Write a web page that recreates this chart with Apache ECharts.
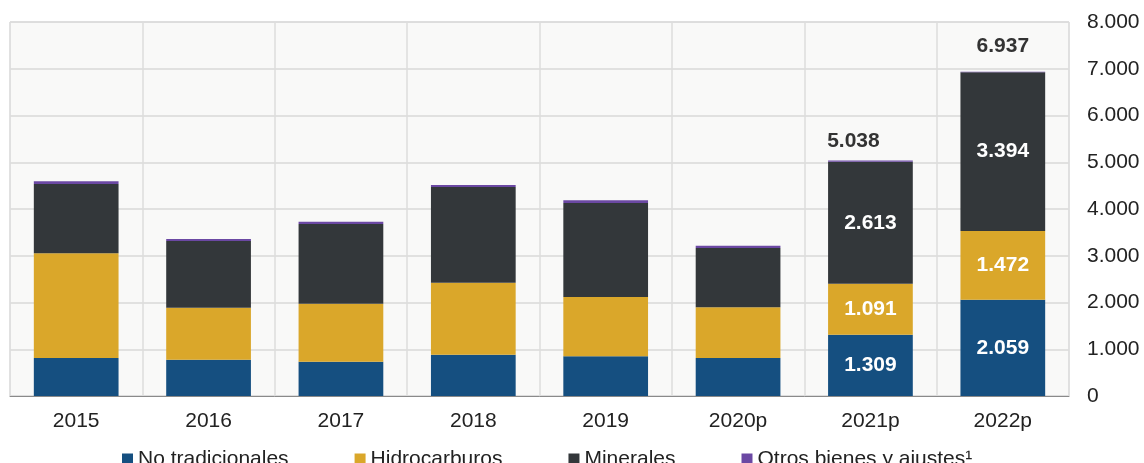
<!DOCTYPE html>
<html>
<head>
<meta charset="utf-8">
<script src="https://cdn.jsdelivr.net/npm/echarts@6/dist/echarts.min.js"></script>
<style>
  html, body { margin: 0; padding: 0; background: #ffffff; }
  #chart { width: 1144px; height: 463px; }
</style>
</head>
<body>
<div id="chart"></div>
<script>
// Exportaciones por grupo (millones), 2015-2022p
const categories = ['2015', '2016', '2017', '2018', '2019', '2020p', '2021p', '2022p'];
const noTradicionales = [813, 777, 734, 884, 849, 813, 1309, 2059];
const hidrocarburos   = [2239, 1112, 1241, 1540, 1269, 1084, 1091, 1472];
const minerales       = [1483, 1426, 1704, 2047, 2010, 1269, 2613, 3394];
const otros           = [57, 43, 50, 42, 58, 49, 25, 12];
const yTicks = [0, 1000, 2000, 3000, 4000, 5000, 6000, 7000, 8000];

// Years whose values are printed on the bars
const labelledYears = ['2021p', '2022p'];

const FONT = '"Liberation Sans", Arial, sans-serif';

function fmt(v) {
  return String(Math.round(v)).replace(/\B(?=(\d{3})+(?!\d))/g, '.');
}

function innerData(values) {
  return values.map((v, i) => ({
    value: v,
    label: { show: labelledYears.includes(categories[i]) }
  }));
}

const totals = categories.map((c, i) =>
  noTradicionales[i] + hidrocarburos[i] + minerales[i] + otros[i]);

const otrosData = otros.map((v, i) => {
  const item = { value: v };
  if (labelledYears.includes(categories[i])) {
    item.label = {
      show: true,
      position: 'top',
      distance: categories[i] === '2021p' ? 9 : 15,
      offset: categories[i] === '2021p' ? [-17, 0] : [0, 0],
      formatter: () => fmt(totals[i])
    };
  }
  return item;
});

const innerLabel = {
  show: false,
  position: 'inside',
  color: '#ffffff',
  fontWeight: 'bold',
  fontSize: 21,
  fontFamily: FONT,
  formatter: p => fmt(p.value)
};

const chart = echarts.init(document.getElementById('chart'), null, { renderer: 'canvas' });

chart.setOption({
  animation: false,
  backgroundColor: '#ffffff',
  textStyle: { fontFamily: FONT },
  grid: {
    left: 10, right: 75, top: 22, bottom: 67,
    show: true,
    backgroundColor: '#f9f9f8',
    borderColor: '#dcdcdc',
    borderWidth: 1
  },
  legend: {
    left: 117,
    top: 444,
    itemWidth: 11,
    itemHeight: 12,
    itemGap: 66,
    icon: 'rect',
    textStyle: { fontSize: 21, color: '#222', fontFamily: FONT },
    data: ['No tradicionales', 'Hidrocarburos', 'Minerales', 'Otros bienes y ajustes¹']
  },
  xAxis: {
    type: 'category',
    data: categories,
    boundaryGap: true,
    axisLine: { show: true, lineStyle: { color: '#8a8a8a', width: 1 } },
    axisTick: { show: false },
    axisLabel: { fontSize: 21, color: '#222', margin: 15, fontFamily: FONT },
    splitLine: { show: true, interval: 0, lineStyle: { color: '#dcdcdc', width: 1.5 } }
  },
  yAxis: {
    type: 'value',
    position: 'right',
    min: yTicks[0],
    max: yTicks[yTicks.length - 1],
    interval: yTicks[1] - yTicks[0],
    axisLine: { show: false },
    axisTick: { show: false },
    axisLabel: {
      fontSize: 21, color: '#222', margin: 18, align: 'left', fontFamily: FONT,
      formatter: v => fmt(v)
    },
    splitLine: { show: true, lineStyle: { color: '#d9d9d9', width: 1.5 } }
  },
  series: [
    {
      name: 'No tradicionales', type: 'bar', stack: 'total', barWidth: '64%',
      itemStyle: { color: '#154f80' },
      label: innerLabel,
      data: innerData(noTradicionales)
    },
    {
      name: 'Hidrocarburos', type: 'bar', stack: 'total',
      itemStyle: { color: '#daa72a' },
      label: innerLabel,
      data: innerData(hidrocarburos)
    },
    {
      name: 'Minerales', type: 'bar', stack: 'total',
      itemStyle: { color: '#33373a' },
      label: innerLabel,
      data: innerData(minerales)
    },
    {
      name: 'Otros bienes y ajustes¹', type: 'bar', stack: 'total',
      itemStyle: { color: '#6b48a3' },
      label: {
        show: false,
        color: '#333',
        fontWeight: 'bold',
        fontSize: 21,
        fontFamily: FONT
      },
      data: otrosData
    }
  ]
});
</script>
</body>
</html>
